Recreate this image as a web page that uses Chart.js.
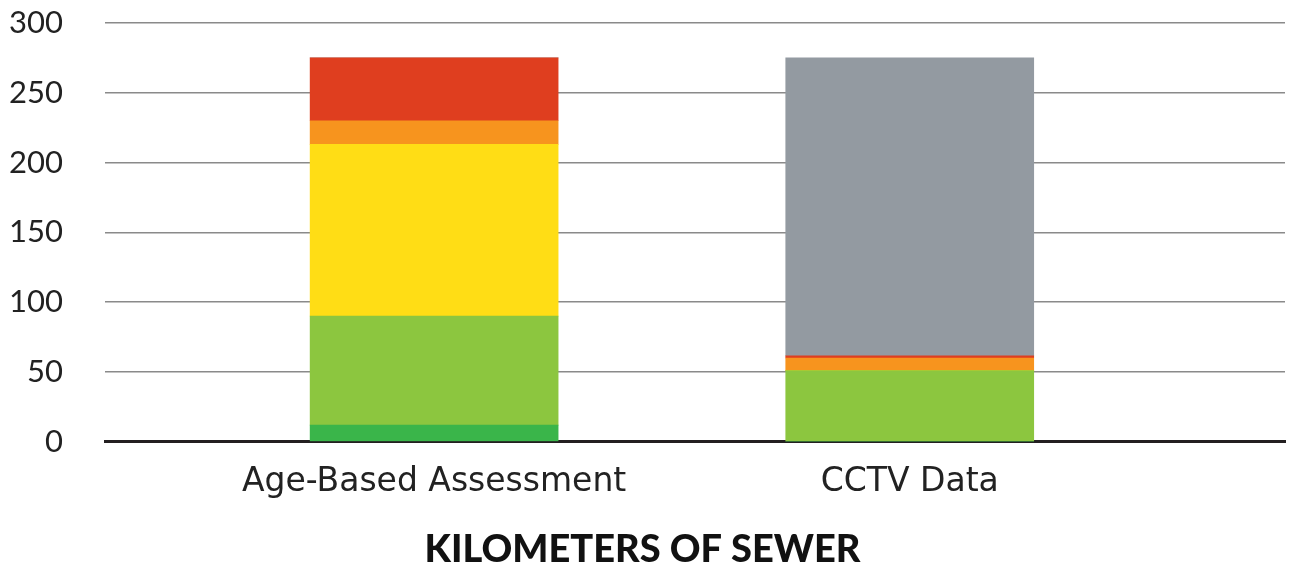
<!DOCTYPE html>
<html>
<head>
<meta charset="utf-8">
<script src="https://cdn.jsdelivr.net/npm/chart.js@4"></script>
<style>
  html, body { margin: 0; padding: 0; background: #fff; }
  #wrap { width: 1289px; height: 570px; }
</style>
</head>
<body>
<div id="wrap"><canvas id="sewerChart" width="1289" height="570"></canvas></div>
<script>
'use strict';

/* ── Data (km of sewer by condition) ─────────────────────────── */
const categories = ['Age-Based Assessment', 'CCTV Data'];
const catPos     = [1, 2];
const veryGood   = [12, 0];
const good       = [78, 51];
const fair       = [123, 0];
const poor       = [17, 9];
const veryPoor   = [45, 1.5];
const unknown    = [0, 213.5];
const yTicks     = [0, 50, 100, 150, 200, 250, 300];

const FONT = "Lato, 'Open Sans', sans-serif";

function series(label, values, color) {
  return {
    label,
    stack: 'km',
    data: values.map((v, i) => ({ x: catPos[i], y: v })),
    backgroundColor: color,
    borderWidth: 0,
    barThickness: 248,
  };
}

new Chart(document.getElementById('sewerChart'), {
  type: 'bar',
  data: {
    datasets: [
      series('Very Good', veryGood, '#3ab54a'),
      series('Good',      good,     '#8cc63f'),
      series('Fair',      fair,     '#ffdd15'),
      series('Poor',      poor,     '#f7941e'),
      series('Very Poor', veryPoor, '#df3e1f'),
      series('Unknown',   unknown,  '#939aa1'),
    ],
  },
  options: {
    responsive: false,
    animation: false,
    layout: { padding: { top: 0, right: 4, left: 0, bottom: -6 } },
    plugins: {
      legend: { display: false },
      tooltip: { enabled: false },
      title: {
        display: true,
        position: 'bottom',
        text: 'KILOMETERS OF SEWER',
        color: '#111',
        font: { family: FONT, size: 38, weight: '900' },
        padding: { top: 4, bottom: 3 },
      },
    },
    scales: {
      x: {
        type: 'linear',
        offset: false,
        min: 0.308,
        max: 2.789,
        z: 1,
        afterBuildTicks: axis => { axis.ticks = catPos.map(v => ({ value: v })); },
        grid: { display: false, drawTicks: false },
        border: { display: true, color: '#231f20', width: 3 },
        ticks: {
          color: '#222',
          padding: 21,
          maxRotation: 0,
          autoSkip: false,
          font: { family: "'DejaVu Sans', sans-serif", size: 33 },
          callback: v => categories[catPos.indexOf(v)] ?? '',
        },
      },
      y: {
        stacked: true,
        min: 0,
        max: 300,
        afterBuildTicks: axis => { axis.ticks = yTicks.map(v => ({ value: v })); },
        afterFit: axis => { axis.width = 105; axis.paddingTop = 23; },
        grid: {
          color: '#8a8a8a',
          lineWidth: 1.6,
          drawTicks: false,
        },
        border: { display: false },
        ticks: {
          color: '#222',
          padding: 42,
          font: { family: FONT, size: 31 },
        },
      },
    },
  },
});
</script>
</body>
</html>
